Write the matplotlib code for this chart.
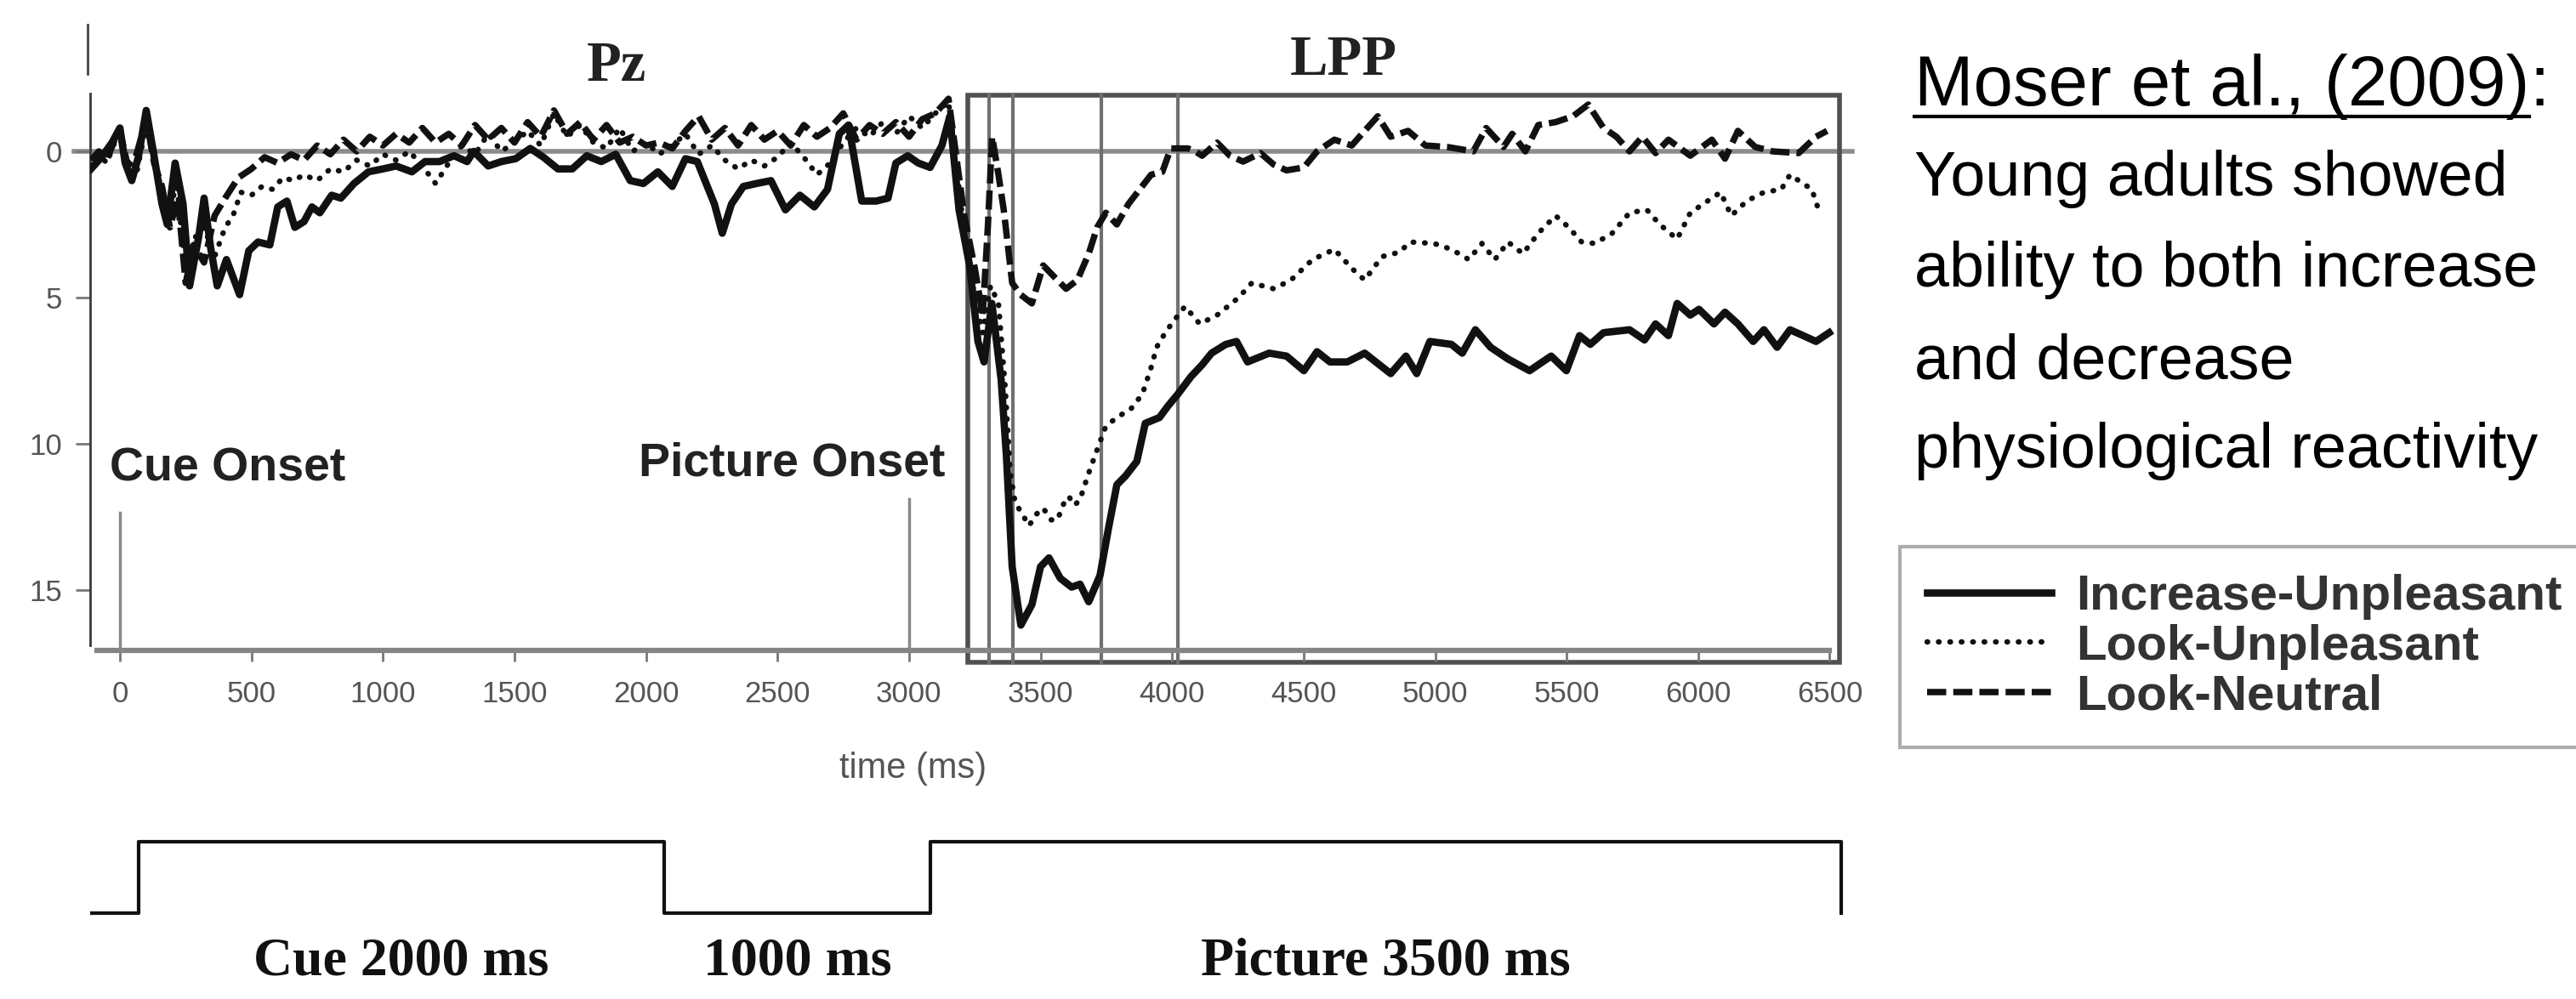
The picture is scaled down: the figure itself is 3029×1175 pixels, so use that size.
import matplotlib
matplotlib.use("Agg")
import matplotlib.pyplot as plt
from matplotlib.patches import Rectangle
from matplotlib.lines import Line2D
from matplotlib.font_manager import FontProperties

SANS = "Liberation Sans"
SERIF = "Liberation Serif"

# ERP traces (time in ms, amplitude in uV, positive drawn downward)
t_inc = [-110, -70, -30, 0, 20, 45, 70, 100, 125, 160, 180, 210, 240, 265, 300, 320, 345, 370, 405, 455,
         490, 525, 570, 600, 635, 665, 700, 730, 760, 805, 840, 890, 945, 1000, 1050, 1110, 1160, 1215, 1270, 1320,
         1345, 1400, 1450, 1505, 1560, 1610, 1665, 1720, 1775, 1830, 1885, 1940, 1990, 2045, 2100, 2150, 2195, 2260, 2290, 2325,
         2370, 2420, 2475, 2530, 2585, 2640, 2690, 2735, 2770, 2820, 2875, 2920, 2950, 2995, 3035, 3080, 3125, 3155, 3190, 3230,
         3262, 3285, 3315, 3350, 3370, 3392, 3425, 3467, 3500, 3532, 3575, 3618, 3650, 3683, 3726, 3758, 3790, 3823, 3866, 3898,
         3952, 3985, 4022, 4072, 4114, 4150, 4204, 4245, 4287, 4369, 4435, 4501, 4551, 4600, 4666, 4732, 4831, 4889, 4930, 4980,
         5062, 5103, 5153, 5211, 5277, 5359, 5441, 5499, 5549, 5590, 5640, 5739, 5796, 5838, 5887, 5920, 5970, 6003, 6060, 6102,
         6151, 6209, 6250, 6300, 6349, 6399, 6448, 6498]
v_inc = [0.6, 0.2, -0.3, -0.8, 0.4, 1.0, 0.2, -1.4, -0.1, 1.8, 2.5, 0.4, 1.8, 4.6, 2.9, 1.6, 3.3, 4.6, 3.7, 4.9,
         3.4, 3.1, 3.2, 1.9, 1.7, 2.6, 2.4, 1.9, 2.1, 1.5, 1.6, 1.1, 0.7, 0.6, 0.5, 0.7, 0.35, 0.35, 0.15, 0.35,
         0.0, 0.5, 0.35, 0.25, -0.1, 0.2, 0.6, 0.6, 0.15, 0.35, 0.1, 1.0, 1.1, 0.7, 1.2, 0.25, 0.35, 1.8, 2.8, 1.8,
         1.2, 1.1, 1.0, 2.0, 1.5, 1.9, 1.3, -0.6, -0.9, 1.7, 1.7, 1.6, 0.4, 0.15, 0.4, 0.55, -0.2, -1.2, 2.0, 3.9,
         6.5, 7.2, 5.2, 7.8, 10.4, 14.2, 16.2, 15.5, 14.2, 13.9, 14.6, 14.9, 14.8, 15.4, 14.5, 12.9, 11.4, 11.1, 10.6, 9.3,
         9.1, 8.7, 8.3, 7.7, 7.3, 6.9, 6.6, 6.5, 7.2, 6.9, 7.0, 7.5, 6.85, 7.2, 7.2, 6.9, 7.6, 7.0, 7.6, 6.5,
         6.6, 6.9, 6.1, 6.7, 7.1, 7.5, 7.0, 7.5, 6.3, 6.6, 6.2, 6.1, 6.45, 5.9, 6.3, 5.2, 5.6, 5.4, 5.9, 5.5,
         5.9, 6.5, 6.1, 6.7, 6.1, 6.3, 6.5, 6.2]

t_lu = [-110, -80, -50, -20, 0, 30, 60, 100, 130, 160, 190, 215, 250, 280, 320, 360, 400, 430, 460, 500,
        540, 580, 620, 660, 700, 750, 800, 850, 900, 950, 1000, 1050, 1100, 1150, 1200, 1250, 1300, 1350, 1400, 1450,
        1500, 1550, 1600, 1650, 1700, 1750, 1800, 1850, 1900, 1950, 2000, 2050, 2100, 2150, 2200, 2250, 2300, 2350, 2400, 2450,
        2500, 2550, 2600, 2650, 2700, 2750, 2800, 2850, 2900, 2950, 3000, 3050, 3100, 3150, 3180, 3210, 3250, 3280, 3310, 3340,
        3365, 3385, 3403, 3430, 3456, 3485, 3510, 3540, 3564, 3590, 3607, 3630, 3650, 3683, 3715, 3748, 3790, 3844, 3887, 3920,
        3941, 3974, 4006, 4049, 4105, 4171, 4253, 4303, 4386, 4452, 4534, 4617, 4683, 4732, 4798, 4864, 4905, 4996, 5062, 5128,
        5178, 5227, 5277, 5334, 5392, 5458, 5508, 5557, 5607, 5673, 5739, 5805, 5854, 5920, 5970, 6019, 6085, 6126, 6184, 6250,
        6316, 6349, 6399, 6432, 6465]
v_lu = [0.5, 0.1, 0.4, -0.3, -0.6, 0.6, 0.9, -0.9, 0.3, 1.4, 2.2, 1.0, 4.2, 3.0, 2.6, 3.6, 2.6, 2.2, 1.4, 1.5,
        1.2, 1.3, 0.9, 1.0, 0.8, 1.0, 0.6, 0.7, 0.3, 0.5, 0.1, 0.3, 0.0, 0.5, 1.1, 0.4, -0.2, 0.1, -0.6, 0.0,
        -0.3, -0.7, -0.2, -1.3, -0.5, -0.9, -0.3, -0.1, -0.8, 0.0, -0.3, 0.1, -0.2, -0.6, 0.1, -0.2, 0.3, 0.6, 0.3, 0.5,
        0.2, -0.3, 0.2, 0.8, 0.4, -0.3, -0.8, -0.5, -1.0, -0.6, -1.2, -0.8, -1.3, -1.7, 0.5, 2.8, 5.0, 6.2, 4.6, 5.2,
        8.0, 11.0, 12.0, 12.4, 12.8, 12.4, 12.2, 12.6, 12.6, 12.0, 11.8, 12.1, 11.9, 11.0, 10.2, 9.4, 9.1, 8.8, 8.3, 7.4,
        6.7, 6.2, 5.8, 5.3, 5.9, 5.6, 5.0, 4.5, 4.7, 4.4, 3.7, 3.35, 4.0, 4.4, 3.6, 3.45, 3.1, 3.15, 3.35, 3.7,
        3.15, 3.7, 3.1, 3.5, 2.8, 2.2, 2.6, 3.1, 3.15, 2.8, 2.1, 2.0, 2.5, 3.0, 2.1, 1.8, 1.4, 2.2, 1.7, 1.4,
        1.3, 0.8, 1.1, 1.3, 2.2]

t_ln = [-110, -80, -50, -20, 0, 30, 60, 100, 130, 160, 190, 220, 250, 280, 320, 360, 400, 450, 500, 550,
        600, 650, 700, 750, 800, 850, 900, 950, 1000, 1050, 1100, 1150, 1200, 1250, 1300, 1350, 1400, 1450, 1500, 1550,
        1600, 1650, 1700, 1750, 1800, 1850, 1900, 1950, 2000, 2050, 2100, 2150, 2200, 2250, 2300, 2350, 2400, 2450, 2500, 2550,
        2600, 2650, 2700, 2750, 2800, 2850, 2900, 2950, 3000, 3050, 3100, 3150, 3180, 3210, 3250, 3280, 3300, 3316, 3340, 3360,
        3392, 3424, 3467, 3510, 3553, 3597, 3640, 3683, 3715, 3748, 3790, 3834, 3877, 3920, 3963, 3995, 4060, 4088, 4114, 4171,
        4220, 4270, 4336, 4386, 4435, 4501, 4551, 4617, 4683, 4732, 4782, 4831, 4897, 4963, 5046, 5145, 5194, 5260, 5293, 5343,
        5392, 5458, 5524, 5582, 5640, 5689, 5739, 5788, 5838, 5887, 5970, 6052, 6102, 6151, 6217, 6283, 6382, 6448, 6490]
v_ln = [0.3, 0.0, 0.3, -0.4, -0.7, 0.5, 0.2, -1.1, 0.4, 1.2, 2.6, 1.6, 4.5, 3.2, 3.8, 2.2, 1.6, 0.9, 0.6, 0.2,
        0.4, 0.1, 0.3, -0.2, 0.1, -0.4, 0.0, -0.5, -0.2, -0.6, -0.3, -0.8, -0.3, -0.6, -0.2, -0.9, -0.4, -0.8, -0.3, -1.0,
        -0.5, -1.4, -0.6, -1.0, -0.4, -0.9, -0.3, -0.5, -0.2, -0.3, -0.1, -0.7, -1.2, -0.4, -0.8, -0.2, -0.9, -0.4, -0.7, -0.2,
        -0.9, -0.5, -0.8, -1.3, -0.4, -0.9, -0.6, -1.0, -0.5, -1.1, -1.3, -1.8, 0.2, 2.2, 4.0, 5.6, 2.5, -0.5, 0.8, 2.0,
        4.5, 4.9, 5.2, 3.9, 4.3, 4.7, 4.4, 3.5, 2.6, 2.1, 2.5, 1.8, 1.3, 0.8, 0.7, -0.1, -0.1, 0.0, 0.15, -0.3,
        0.15, 0.35, 0.06, 0.45, 0.65, 0.55, 0.0, -0.4, -0.2, -0.7, -1.2, -0.5, -0.7, -0.2, -0.15, 0.0, -0.8, -0.15, -0.6, 0.0,
        -0.9, -1.0, -1.2, -1.6, -0.8, -0.5, 0.0, -0.5, 0.06, -0.4, 0.15, -0.4, 0.25, -0.7, -0.15, 0.0, 0.06, -0.5, -0.7]

series_labels = ["Increase-Unpleasant", "Look-Unpleasant", "Look-Neutral"]

x_ticks = list(range(0, 6501, 500))
y_ticks = [0, 5, 10, 15]
onsets = [0, 3000]
onset_labels = ["Cue Onset", "Picture Onset"]
lpp_window = [3223, 6537]
lpp_marks = [3304, 3395, 3731, 4022]

# trial timeline underneath
phase_edges = [-115, 70, 2070, 3080, 6545]
phase_levels = [0, 1, 0, 1]
phase_labels = ["Cue 2000 ms", "1000 ms", "Picture 3500 ms"]

W, H = 3029, 1175
fig = plt.figure(figsize=(W / 100, H / 100), dpi=100)


def fx(px):
    return px / W


def fy(py):
    return 1 - py / H


# main ERP axes
ax = fig.add_axes([fx(106.05), fy(764.5), (2182.4 - 106.05) / W, (764.5 - 98.9) / H])
ax.set_xlim(-113, 6600)
ax.set_ylim(17.05, -2.3)
ax.patch.set_alpha(0)
for s in ["top", "right"]:
    ax.spines[s].set_visible(False)
ax.spines["left"].set_bounds(-1.98, 16.9)
ax.spines["left"].set_color("#3a3a3a")
ax.spines["left"].set_linewidth(2)
ax.spines["bottom"].set_bounds(-87, 6500)
ax.spines["bottom"].set_color("#858585")
ax.spines["bottom"].set_linewidth(4.5)

ax.set_xticks(x_ticks)
ax.set_yticks(y_ticks)
ax.tick_params(axis="x", direction="out", length=9.5, width=2, color="#777777",
               pad=16, labelsize=25, labelcolor="#555555")
ax.tick_params(axis="y", direction="out", length=12, width=2, color="#777777",
               pad=12, labelsize=25, labelcolor="#555555")
for lab in ax.get_xticklabels() + ax.get_yticklabels():
    lab.set_family(SANS)

ax.text(3016, 21.1, "time (ms)", ha="center", va="center", fontsize=30,
        color="#555555", family=SANS, clip_on=False)

# reference lines
ax.plot([-175, 6586], [0, 0], color="#8c8c8c", lw=4, clip_on=False, zorder=1)
ax.plot([-123, -123], [-4.33, -2.65], color="#444444", lw=2, clip_on=False)

ax.add_patch(Rectangle((lpp_window[0], -1.92), lpp_window[1] - lpp_window[0], 17.47 + 1.92,
                       fill=False, ec="#505050", lw=4, clip_on=False, zorder=1))
for m in lpp_marks:
    ax.plot([m, m], [-1.92, 17.47], color="#707070", lw=3, clip_on=False, zorder=1)

ax.plot([onsets[0]] * 2, [12.35, 17.05], color="#888888", lw=2.5, clip_on=False)
ax.plot([onsets[1]] * 2, [11.9, 17.05], color="#888888", lw=2.5, clip_on=False)

ax.text(-40, 10.85, onset_labels[0], ha="left", va="center", fontsize=40,
        fontweight="bold", color="#222222", family=SANS)
ax.text(3136, 10.67, onset_labels[1], ha="right", va="center", fontsize=40,
        fontweight="bold", color="#222222", family=SANS)
ax.text(1888, -2.9, "Pz", ha="center", va="center", fontsize=48, fontweight="bold",
        color="#222222", family=SERIF, clip_on=False)
ax.text(4652, -3.1, "LPP", ha="center", va="center", fontsize=48, fontweight="bold",
        color="#222222", family=SERIF, clip_on=False)

# the three traces
l1, = ax.plot(t_inc, v_inc, color="#111111", lw=6.2, solid_joinstyle="round",
              label=series_labels[0], zorder=4)
l2, = ax.plot(t_lu, v_lu, color="#111111", lw=4.6, linestyle=(0, (0.1, 2.0)),
              dash_capstyle="round", label=series_labels[1], zorder=3)
l3, = ax.plot(t_ln, v_ln, color="#111111", lw=5.4, linestyle=(0, (3, 1.1)),
              label=series_labels[2], zorder=3)

leg = fig.legend([l1, l2, l3], series_labels, loc="upper left",
                 bbox_to_anchor=(fx(2234), fy(643)), bbox_transform=fig.transFigure,
                 frameon=True, fancybox=False, edgecolor="#999999", borderaxespad=0,
                 prop=FontProperties(family=SANS, weight="bold", size=42),
                 labelcolor="#333333", handlelength=2.5, handletextpad=0.5,
                 borderpad=0.55, labelspacing=0.08)
leg.get_frame().set_linewidth(3)

# timeline below the ERP plot
ax2 = fig.add_axes([fx(106.05), 0, (2182.4 - 106.05) / W, (1175 - 940) / H])
ax2.set_xlim(ax.get_xlim())
ax2.set_ylim(-1.202, 1.595)
ax2.axis("off")
step_t, step_y = [], []
for i, lvl in enumerate(phase_levels):
    step_t += [phase_edges[i], phase_edges[i + 1]]
    step_y += [lvl, lvl]
step_t.append(phase_edges[-1])
step_y.append(0)
ax2.plot(step_t, step_y, color="#111111", lw=3)
for i, lab in enumerate(phase_labels):
    mid = (phase_edges[i + 1] + phase_edges[i + 2]) / 2
    ax2.text(mid, -0.679, lab, ha="center", va="center", fontsize=46,
             fontweight="bold", family=SERIF, color="#111111")

# study note on the right
head = fig.text(fx(2251), fy(124), "Moser et al., (2009)", fontsize=60,
                family=SANS, va="baseline", color="black")
fig.canvas.draw()
bb = head.get_window_extent()
fig.text(bb.x1 / W, fy(124), ":", fontsize=60, family=SANS, va="baseline", color="black")
fig.add_artist(Line2D([bb.x0 / W, bb.x1 / W], [fy(137), fy(137)], color="black", lw=3))

body = ["Young adults showed", "ability to both increase", "and decrease", "physiological reactivity"]
for line, base in zip(body, [230, 337, 445, 550]):
    fig.text(fx(2251), fy(base), line, fontsize=53, family=SANS, va="baseline", color="black")

fig.savefig("out.png", dpi=100)
